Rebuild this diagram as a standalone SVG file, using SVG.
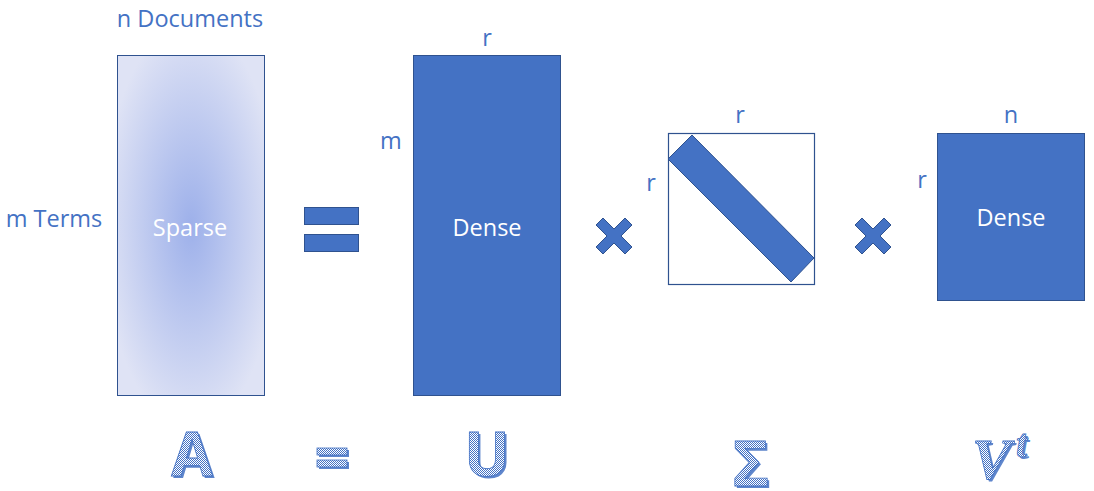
<svg xmlns="http://www.w3.org/2000/svg" width="1094" height="491" viewBox="0 0 1094 491">
<defs>
<radialGradient id="sparseGrad" cx="50%" cy="50%" r="60%" gradientUnits="objectBoundingBox">
<stop offset="0" stop-color="#9db0ea"/>
<stop offset="1" stop-color="#dfe3f5"/>
</radialGradient>
<pattern id="checker" width="2" height="2" patternUnits="userSpaceOnUse">
<rect width="2" height="2" fill="#ffffff"/>
<rect width="1" height="1" fill="#4472c4"/>
<rect x="1" y="1" width="1" height="1" fill="#4472c4"/>
</pattern>
</defs>
<style>
.lbl{font-family:"Open Sans","Noto Sans","Liberation Sans",sans-serif;font-size:23.5px;fill:#4472c4;text-anchor:middle;dominant-baseline:central}
.in{font-family:"Open Sans","Noto Sans","Liberation Sans",sans-serif;font-size:23.5px;fill:#ffffff;text-anchor:middle;dominant-baseline:central}
.dense{fill:#4472c4;stroke:#2f528f;stroke-width:1}
.big{font-family:"Open Sans","Noto Sans","Liberation Sans",sans-serif;font-weight:bold;font-size:60px;text-anchor:middle}
.shadow{fill:#4472c4;opacity:0.85}
.face{fill:url(#checker);stroke:#4472c4;stroke-width:0.8}
.ser{font-family:"Liberation Serif","DejaVu Serif",serif;font-style:italic;font-weight:bold}
</style>
<rect width="1094" height="491" fill="#ffffff"/>

<g id="matrixA">
<rect x="117.5" y="55.5" width="147" height="340" fill="url(#sparseGrad)" stroke="#2f528f" stroke-width="1"/>
<text class="in" x="190" y="227">Sparse</text>
<text class="lbl" x="190" y="18">n Documents</text>
<text class="lbl" x="54" y="218">m Terms</text>
</g>

<g id="equalsSign">
<rect x="304.5" y="207.5" width="54" height="17" class="dense"/>
<rect x="304.5" y="234.5" width="54" height="17" class="dense"/>
</g>

<g id="matrixU">
<rect x="413.5" y="55.5" width="147" height="340" class="dense"/>
<text class="in" x="487" y="227">Dense</text>
<text class="lbl" x="487" y="37">r</text>
<text class="lbl" x="391" y="140">m</text>
</g>

<g id="times1">
<polygon class="dense" points="603,218 614,229 625,218 632,225 621,236 632,247 625,254 614,243 603,254 596,247 607,236 596,225"/>
</g>

<g id="matrixSigma">
<rect x="668.5" y="133.5" width="146" height="151" fill="#ffffff" stroke="#2f528f" stroke-width="1.2"/>
<polygon class="dense" points="692,135 814,258 791,282 668,159"/>
<text class="lbl" x="740" y="114">r</text>
<text class="lbl" x="651" y="182">r</text>
</g>

<g id="times2">
<polygon class="dense" points="862,218 873,229 884,218 891,225 880,236 891,247 884,254 873,243 862,254 855,247 866,236 855,225"/>
</g>

<g id="matrixV">
<rect x="937.5" y="133.5" width="147" height="167" class="dense"/>
<text class="in" x="1011" y="217">Dense</text>
<text class="lbl" x="1011" y="114">n</text>
<text class="lbl" x="922" y="179">r</text>
</g>

<g id="symbolA">
<text class="big shadow" x="194" y="478">A</text>
<text class="big face" x="192" y="476">A</text>
</g>
<g id="symbolEq">
<rect x="319" y="450" width="30" height="7" class="shadow"/>
<rect x="319" y="462" width="30" height="7" class="shadow"/>
<rect x="317" y="448" width="30" height="7" class="face"/>
<rect x="317" y="460" width="30" height="7" class="face"/>
</g>
<g id="symbolU">
<text class="big shadow" x="489" y="478">U</text>
<text class="big face" x="487" y="476">U</text>
</g>
<g id="symbolSigma">
<text class="big shadow" x="753" y="488" style="font-size:62px">Σ</text>
<text class="big face" x="751" y="486" style="font-size:62px">Σ</text>
</g>
<g id="symbolV">
<text class="ser shadow" x="974" y="481" style="font-size:58px">V</text>
<text class="ser face" x="972" y="479" style="font-size:58px">V</text>
<text class="ser shadow" x="1018" y="459" style="font-size:40px">t</text>
<text class="ser face" x="1016" y="457" style="font-size:40px">t</text>
</g>
</svg>
